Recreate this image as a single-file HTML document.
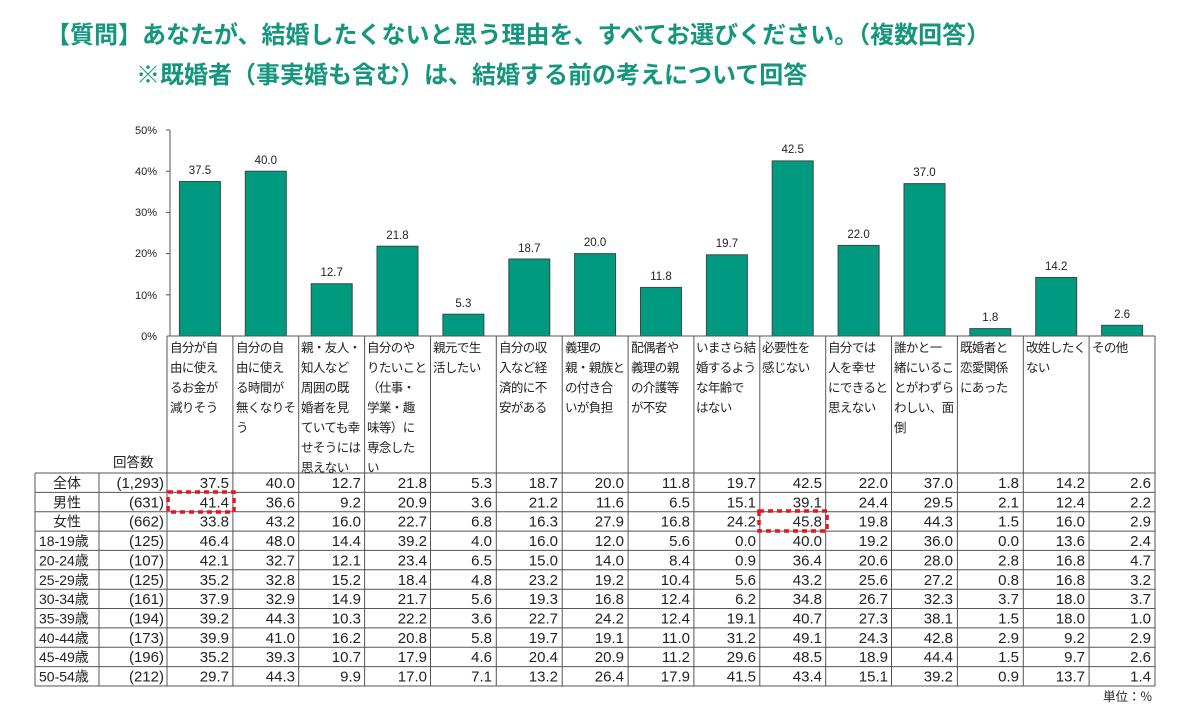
<!DOCTYPE html>
<html><head><meta charset="utf-8"><style>
html,body{margin:0;padding:0;background:#fff;}
svg{display:block;}
text{font-family:"Liberation Sans","Noto Sans CJK JP",sans-serif;fill:#222;}
.t{font-family:"Noto Sans CJK JP",sans-serif;font-weight:bold;font-size:24px;fill:#14967c;}
.h{font-family:"Noto Sans CJK JP",sans-serif;font-size:12.5px;letter-spacing:-0.6px;}
.r{font-family:"Noto Sans CJK JP",sans-serif;font-size:13.5px;}
.n{font-size:15px;}
.ax{font-size:11px;}
.v{font-size:11.5px;}
</style></head><body>
<svg width="1200" height="714" viewBox="0 0 1200 714">
<text class="t" x="46" y="43">【質問】あなたが、結婚したくないと思う理由を、すべてお選びください。（複数回答）</text>
<text class="t" x="136" y="83">※既婚者（事実婚も含む）は、結婚する前の考えについて回答</text>

<g stroke="#555" stroke-width="1">
<line x1="170" y1="130" x2="170" y2="336"/>
<line x1="166" y1="130" x2="170" y2="130"/><line x1="166" y1="171.2" x2="170" y2="171.2"/>
<line x1="166" y1="212.4" x2="170" y2="212.4"/><line x1="166" y1="253.6" x2="170" y2="253.6"/>
<line x1="166" y1="294.8" x2="170" y2="294.8"/>
</g>
<g class="ax" text-anchor="end">
<text x="157" y="134">50%</text><text x="157" y="175">40%</text><text x="157" y="216">30%</text>
<text x="157" y="257">20%</text><text x="157" y="299">10%</text><text x="157" y="340">0%</text>
</g>

<g fill="#009a80" stroke="#3a4a45" stroke-width="1">
<rect x="179.4" y="181.5" width="41" height="154.5"/>
<rect x="245.3" y="171.2" width="41" height="164.8"/>
<rect x="311.2" y="283.7" width="41" height="52.3"/>
<rect x="377" y="246.2" width="41" height="89.8"/>
<rect x="442.9" y="314.2" width="41" height="21.8"/>
<rect x="508.8" y="259" width="41" height="77"/>
<rect x="574.6" y="253.6" width="41" height="82.4"/>
<rect x="640.5" y="287.4" width="41" height="48.6"/>
<rect x="706.4" y="254.8" width="41" height="81.2"/>
<rect x="772.2" y="160.9" width="41" height="175.1"/>
<rect x="838.1" y="245.4" width="41" height="90.6"/>
<rect x="904" y="183.6" width="41" height="152.4"/>
<rect x="969.8" y="328.6" width="41" height="7.4"/>
<rect x="1035.7" y="277.5" width="41" height="58.5"/>
<rect x="1101.6" y="325.3" width="41" height="10.7"/>
</g>
<g class="v" text-anchor="middle">
<text x="199.9" y="174">37.5</text><text x="265.8" y="164">40.0</text><text x="331.7" y="276">12.7</text>
<text x="397.5" y="239">21.8</text><text x="463.4" y="307">5.3</text><text x="529.3" y="252">18.7</text>
<text x="595.1" y="246">20.0</text><text x="661" y="280">11.8</text><text x="726.9" y="247">19.7</text>
<text x="792.7" y="153">42.5</text><text x="858.6" y="238">22.0</text><text x="924.5" y="176">37.0</text>
<text x="990.3" y="321">1.8</text><text x="1056.2" y="270">14.2</text><text x="1122.1" y="318">2.6</text>
</g>

<g stroke="#555" stroke-width="1" fill="none">
<line x1="167" y1="336" x2="1155" y2="336"/>
<line x1="35" y1="473" x2="1155" y2="473"/>
<line x1="35" y1="492.4" x2="1155" y2="492.4"/>
<line x1="35" y1="511.7" x2="1155" y2="511.7"/>
<line x1="35" y1="531.1" x2="1155" y2="531.1"/>
<line x1="35" y1="550.4" x2="1155" y2="550.4"/>
<line x1="35" y1="569.8" x2="1155" y2="569.8"/>
<line x1="35" y1="589.2" x2="1155" y2="589.2"/>
<line x1="35" y1="608.5" x2="1155" y2="608.5"/>
<line x1="35" y1="627.9" x2="1155" y2="627.9"/>
<line x1="35" y1="647.2" x2="1155" y2="647.2"/>
<line x1="35" y1="666.6" x2="1155" y2="666.6"/>
<line x1="35" y1="686" x2="1155" y2="686"/>
<line x1="35" y1="473" x2="35" y2="686"/>
<line x1="99" y1="473" x2="99" y2="686"/>
<line x1="167" y1="336" x2="167" y2="686"/>
<line x1="232.9" y1="336" x2="232.9" y2="686"/>
<line x1="298.7" y1="336" x2="298.7" y2="686"/>
<line x1="364.6" y1="336" x2="364.6" y2="686"/>
<line x1="430.5" y1="336" x2="430.5" y2="686"/>
<line x1="496.3" y1="336" x2="496.3" y2="686"/>
<line x1="562.2" y1="336" x2="562.2" y2="686"/>
<line x1="628.1" y1="336" x2="628.1" y2="686"/>
<line x1="693.9" y1="336" x2="693.9" y2="686"/>
<line x1="759.8" y1="336" x2="759.8" y2="686"/>
<line x1="825.7" y1="336" x2="825.7" y2="686"/>
<line x1="891.5" y1="336" x2="891.5" y2="686"/>
<line x1="957.4" y1="336" x2="957.4" y2="686"/>
<line x1="1023.3" y1="336" x2="1023.3" y2="686"/>
<line x1="1089.1" y1="336" x2="1089.1" y2="686"/>
<line x1="1155" y1="336" x2="1155" y2="686"/>
</g>

<g class="h">
<text x="170" y="352">自分が自<tspan x="170" dy="20">由に使え</tspan><tspan x="170" dy="20">るお金が</tspan><tspan x="170" dy="20">減りそう</tspan></text>
<text x="236" y="352">自分の自<tspan x="236" dy="20">由に使え</tspan><tspan x="236" dy="20">る時間が</tspan><tspan x="236" dy="20">無くなりそ</tspan><tspan x="236" dy="20">う</tspan></text>
<text x="301" y="352">親・友人・<tspan x="301" dy="20">知人など</tspan><tspan x="301" dy="20">周囲の既</tspan><tspan x="301" dy="20">婚者を見</tspan><tspan x="301" dy="20">ていても幸</tspan><tspan x="301" dy="20">せそうには</tspan><tspan x="301" dy="20">思えない</tspan></text>
<text x="367" y="352">自分のや<tspan x="367" dy="20">りたいこと</tspan><tspan x="367" dy="20">（仕事・</tspan><tspan x="367" dy="20">学業・趣</tspan><tspan x="367" dy="20">味等）に</tspan><tspan x="367" dy="20">専念した</tspan><tspan x="367" dy="20">い</tspan></text>
<text x="433" y="352">親元で生<tspan x="433" dy="20">活したい</tspan></text>
<text x="499" y="352">自分の収<tspan x="499" dy="20">入など経</tspan><tspan x="499" dy="20">済的に不</tspan><tspan x="499" dy="20">安がある</tspan></text>
<text x="565" y="352">義理の<tspan x="565" dy="20">親・親族と</tspan><tspan x="565" dy="20">の付き合</tspan><tspan x="565" dy="20">いが負担</tspan></text>
<text x="631" y="352">配偶者や<tspan x="631" dy="20">義理の親</tspan><tspan x="631" dy="20">の介護等</tspan><tspan x="631" dy="20">が不安</tspan></text>
<text x="696" y="352">いまさら結<tspan x="696" dy="20">婚するよう</tspan><tspan x="696" dy="20">な年齢で</tspan><tspan x="696" dy="20">はない</tspan></text>
<text x="762" y="352">必要性を<tspan x="762" dy="20">感じない</tspan></text>
<text x="828" y="352">自分では<tspan x="828" dy="20">人を幸せ</tspan><tspan x="828" dy="20">にできると</tspan><tspan x="828" dy="20">思えない</tspan></text>
<text x="894" y="352">誰かと一<tspan x="894" dy="20">緒にいるこ</tspan><tspan x="894" dy="20">とがわずら</tspan><tspan x="894" dy="20">わしい、面</tspan><tspan x="894" dy="20">倒</tspan></text>
<text x="960" y="352">既婚者と<tspan x="960" dy="20">恋愛関係</tspan><tspan x="960" dy="20">にあった</tspan></text>
<text x="1026" y="352">改姓したく<tspan x="1026" dy="20">ない</tspan></text>
<text x="1092" y="352">その他</text>
</g>
<text class="r" x="113" y="467">回答数</text>

<g class="r" style="font-size:14px">
<text x="67" y="488" text-anchor="middle">全体</text>
<text x="67" y="507.4" text-anchor="middle">男性</text>
<text x="67" y="526.7" text-anchor="middle">女性</text>
<text x="39" y="546.1">18-19歳</text>
<text x="39" y="565.4">20-24歳</text>
<text x="39" y="584.8">25-29歳</text>
<text x="39" y="604.2">30-34歳</text>
<text x="39" y="623.5">35-39歳</text>
<text x="39" y="642.9">40-44歳</text>
<text x="39" y="662.2">45-49歳</text>
<text x="39" y="681.6">50-54歳</text>
</g>

<g class="n" text-anchor="end">
<text y="488"><tspan x="164">(1,293)</tspan><tspan x="229">37.5</tspan><tspan x="295">40.0</tspan><tspan x="361">12.7</tspan><tspan x="427">21.8</tspan><tspan x="492">5.3</tspan><tspan x="558">18.7</tspan><tspan x="624">20.0</tspan><tspan x="690">11.8</tspan><tspan x="756">19.7</tspan><tspan x="822">42.5</tspan><tspan x="888">22.0</tspan><tspan x="953">37.0</tspan><tspan x="1019">1.8</tspan><tspan x="1085">14.2</tspan><tspan x="1151">2.6</tspan></text>
<text y="507.4"><tspan x="164">(631)</tspan><tspan x="229">41.4</tspan><tspan x="295">36.6</tspan><tspan x="361">9.2</tspan><tspan x="427">20.9</tspan><tspan x="492">3.6</tspan><tspan x="558">21.2</tspan><tspan x="624">11.6</tspan><tspan x="690">6.5</tspan><tspan x="756">15.1</tspan><tspan x="822">39.1</tspan><tspan x="888">24.4</tspan><tspan x="953">29.5</tspan><tspan x="1019">2.1</tspan><tspan x="1085">12.4</tspan><tspan x="1151">2.2</tspan></text>
<text y="526.7"><tspan x="164">(662)</tspan><tspan x="229">33.8</tspan><tspan x="295">43.2</tspan><tspan x="361">16.0</tspan><tspan x="427">22.7</tspan><tspan x="492">6.8</tspan><tspan x="558">16.3</tspan><tspan x="624">27.9</tspan><tspan x="690">16.8</tspan><tspan x="756">24.2</tspan><tspan x="822">45.8</tspan><tspan x="888">19.8</tspan><tspan x="953">44.3</tspan><tspan x="1019">1.5</tspan><tspan x="1085">16.0</tspan><tspan x="1151">2.9</tspan></text>
<text y="546.1"><tspan x="164">(125)</tspan><tspan x="229">46.4</tspan><tspan x="295">48.0</tspan><tspan x="361">14.4</tspan><tspan x="427">39.2</tspan><tspan x="492">4.0</tspan><tspan x="558">16.0</tspan><tspan x="624">12.0</tspan><tspan x="690">5.6</tspan><tspan x="756">0.0</tspan><tspan x="822">40.0</tspan><tspan x="888">19.2</tspan><tspan x="953">36.0</tspan><tspan x="1019">0.0</tspan><tspan x="1085">13.6</tspan><tspan x="1151">2.4</tspan></text>
<text y="565.4"><tspan x="164">(107)</tspan><tspan x="229">42.1</tspan><tspan x="295">32.7</tspan><tspan x="361">12.1</tspan><tspan x="427">23.4</tspan><tspan x="492">6.5</tspan><tspan x="558">15.0</tspan><tspan x="624">14.0</tspan><tspan x="690">8.4</tspan><tspan x="756">0.9</tspan><tspan x="822">36.4</tspan><tspan x="888">20.6</tspan><tspan x="953">28.0</tspan><tspan x="1019">2.8</tspan><tspan x="1085">16.8</tspan><tspan x="1151">4.7</tspan></text>
<text y="584.8"><tspan x="164">(125)</tspan><tspan x="229">35.2</tspan><tspan x="295">32.8</tspan><tspan x="361">15.2</tspan><tspan x="427">18.4</tspan><tspan x="492">4.8</tspan><tspan x="558">23.2</tspan><tspan x="624">19.2</tspan><tspan x="690">10.4</tspan><tspan x="756">5.6</tspan><tspan x="822">43.2</tspan><tspan x="888">25.6</tspan><tspan x="953">27.2</tspan><tspan x="1019">0.8</tspan><tspan x="1085">16.8</tspan><tspan x="1151">3.2</tspan></text>
<text y="604.2"><tspan x="164">(161)</tspan><tspan x="229">37.9</tspan><tspan x="295">32.9</tspan><tspan x="361">14.9</tspan><tspan x="427">21.7</tspan><tspan x="492">5.6</tspan><tspan x="558">19.3</tspan><tspan x="624">16.8</tspan><tspan x="690">12.4</tspan><tspan x="756">6.2</tspan><tspan x="822">34.8</tspan><tspan x="888">26.7</tspan><tspan x="953">32.3</tspan><tspan x="1019">3.7</tspan><tspan x="1085">18.0</tspan><tspan x="1151">3.7</tspan></text>
<text y="623.5"><tspan x="164">(194)</tspan><tspan x="229">39.2</tspan><tspan x="295">44.3</tspan><tspan x="361">10.3</tspan><tspan x="427">22.2</tspan><tspan x="492">3.6</tspan><tspan x="558">22.7</tspan><tspan x="624">24.2</tspan><tspan x="690">12.4</tspan><tspan x="756">19.1</tspan><tspan x="822">40.7</tspan><tspan x="888">27.3</tspan><tspan x="953">38.1</tspan><tspan x="1019">1.5</tspan><tspan x="1085">18.0</tspan><tspan x="1151">1.0</tspan></text>
<text y="642.9"><tspan x="164">(173)</tspan><tspan x="229">39.9</tspan><tspan x="295">41.0</tspan><tspan x="361">16.2</tspan><tspan x="427">20.8</tspan><tspan x="492">5.8</tspan><tspan x="558">19.7</tspan><tspan x="624">19.1</tspan><tspan x="690">11.0</tspan><tspan x="756">31.2</tspan><tspan x="822">49.1</tspan><tspan x="888">24.3</tspan><tspan x="953">42.8</tspan><tspan x="1019">2.9</tspan><tspan x="1085">9.2</tspan><tspan x="1151">2.9</tspan></text>
<text y="662.2"><tspan x="164">(196)</tspan><tspan x="229">35.2</tspan><tspan x="295">39.3</tspan><tspan x="361">10.7</tspan><tspan x="427">17.9</tspan><tspan x="492">4.6</tspan><tspan x="558">20.4</tspan><tspan x="624">20.9</tspan><tspan x="690">11.2</tspan><tspan x="756">29.6</tspan><tspan x="822">48.5</tspan><tspan x="888">18.9</tspan><tspan x="953">44.4</tspan><tspan x="1019">1.5</tspan><tspan x="1085">9.7</tspan><tspan x="1151">2.6</tspan></text>
<text y="681.6"><tspan x="164">(212)</tspan><tspan x="229">29.7</tspan><tspan x="295">44.3</tspan><tspan x="361">9.9</tspan><tspan x="427">17.0</tspan><tspan x="492">7.1</tspan><tspan x="558">13.2</tspan><tspan x="624">26.4</tspan><tspan x="690">17.9</tspan><tspan x="756">41.5</tspan><tspan x="822">43.4</tspan><tspan x="888">15.1</tspan><tspan x="953">39.2</tspan><tspan x="1019">0.9</tspan><tspan x="1085">13.7</tspan><tspan x="1151">1.4</tspan></text>
</g>

<text class="r" x="1152" y="701" text-anchor="end" style="font-size:12.5px">単位：%</text>

<g fill="none" stroke="#e8141e" stroke-width="3.5" stroke-dasharray="5 4">
<rect x="168" y="492" width="66" height="20"/>
<rect x="759" y="511" width="68" height="20"/>
</g>
</svg>
</body></html>
